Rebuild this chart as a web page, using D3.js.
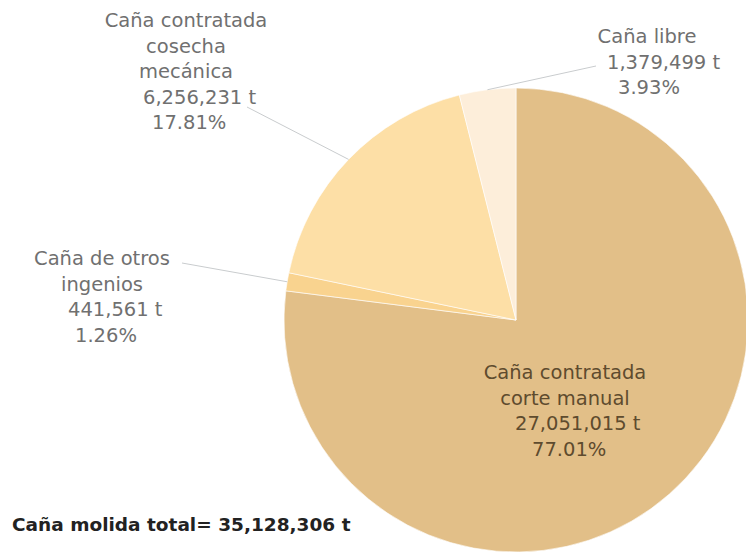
<!DOCTYPE html>
<html>
<head>
<meta charset="utf-8">
<script src="https://cdn.jsdelivr.net/npm/d3@7/dist/d3.min.js"></script>
<style>
  html, body { margin: 0; padding: 0; background: #fff; }
  svg { display: block; }
</style>
</head>
<body>
<svg id="chart" width="746" height="555"></svg>
<script>
// ---- data ----
const categories = ["Caña contratada corte manual", "Caña de otros ingenios", "Caña contratada cosecha mecánica", "Caña libre"];
const values = [27051015, 441561, 6256231, 1379499];
const nameLines = [
  ["Caña contratada", "corte manual"],
  ["Caña de otros", "ingenios"],
  ["Caña contratada", "cosecha", "mecánica"],
  ["Caña libre"]
];
const totalLabel = "Caña molida total= ";

// ---- layout / style ----
const W = 746, H = 555;
const cx = 516, cy = 320, R = 232;
const colors = ["#E2BF88", "#F9D38F", "#FDDFA6", "#FDEEDA"];
const fontFam = "'DejaVu Sans', sans-serif";
const fs = 19.5, lh = 25.5;

const fmt = d3.format(",");
const total = d3.sum(values);
const data = categories.map((c, i) => ({ name: c, value: values[i], lines: nameLines[i], i }));

const svg = d3.select("#chart");
const g = svg.append("g").attr("transform", `translate(${cx},${cy})`);

const pie = d3.pie().sort(null).value(d => d.value).startAngle(0).endAngle(2 * Math.PI);
const arcs = pie(data);
const arc = d3.arc().innerRadius(0).outerRadius(R);
const edgeArc = d3.arc().innerRadius(R).outerRadius(R);

g.selectAll("path.slice").data(arcs).join("path")
  .attr("class", "slice")
  .attr("d", arc)
  .attr("fill", d => colors[d.data.i])
  .attr("stroke", "#fff")
  .attr("stroke-opacity", 0.6)
  .attr("stroke-width", 1);

// label layout
const labelLayout = [
  { x: 565, y: 379, numX: [515, 532], color: "#5E4B2E", line: null },
  { x: 102, y: 265, numX: [68, 75], color: "#707070", line: [182, 263] },
  { x: 186, y: 27, numX: [143, 152], color: "#707070", line: [247, 107] },
  { x: 647, y: 43, numX: [607, 618], color: "#707070", line: [596, 66] }
];

// leader lines
arcs.forEach(d => {
  const L = labelLayout[d.data.i];
  if (!L.line) return;
  const [ex, ey] = edgeArc.centroid(d);
  svg.append("line")
    .attr("x1", L.line[0]).attr("y1", L.line[1])
    .attr("x2", cx + ex).attr("y2", cy + ey)
    .attr("stroke", "#C9CCCE").attr("stroke-width", 1);
});

// labels
arcs.forEach(d => {
  const L = labelLayout[d.data.i];
  const lines = d.data.lines;
  const pct = (d.data.value / total * 100).toFixed(2) + "%";
  const grp = svg.append("g")
    .attr("font-family", fontFam).attr("font-size", fs).attr("fill", L.color);
  lines.forEach((t, k) => {
    grp.append("text").attr("x", L.x).attr("y", L.y + k * lh)
      .attr("text-anchor", "middle").text(t);
  });
  const n = lines.length;
  grp.append("text").attr("x", L.numX[0]).attr("y", L.y + n * lh)
    .attr("text-anchor", "start").text(fmt(d.data.value) + " t");
  grp.append("text").attr("x", L.numX[1]).attr("y", L.y + (n + 1) * lh)
    .attr("text-anchor", "start").text(pct);
});

// total
svg.append("text")
  .attr("x", 12).attr("y", 531)
  .attr("font-family", fontFam).attr("font-size", 18.5).attr("font-weight", "bold")
  .attr("fill", "#222")
  .text(totalLabel + fmt(total) + " t");
</script>
</body>
</html>
